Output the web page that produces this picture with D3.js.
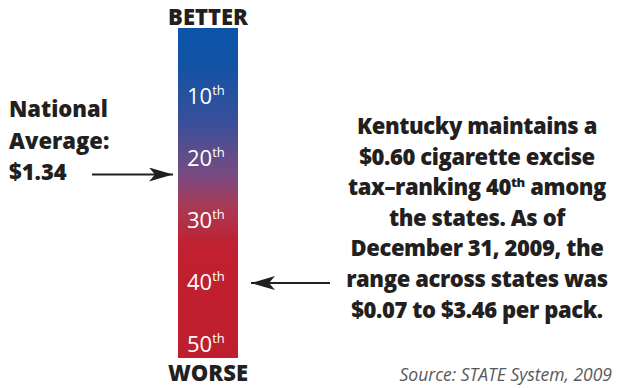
<!DOCTYPE html>
<html><head><meta charset="utf-8">
<script src="https://cdn.jsdelivr.net/npm/d3@7"></script>
<style>body{margin:0;background:#fff}svg{display:block}</style>
</head><body>
<script>
const rankTicks = [10, 20, 30, 40, 50];
const rankDomain = [0, 53];
const nationalAvgRank = 22.5;
const kentuckyRank = 40;
const leftLabel = ["National", "Average:", "$1.34"];
const rightLabel = ["Kentucky maintains a", "$0.60 cigarette excise", "tax\u2013ranking 40|th| among", "the states. As of", "December 31, 2009, the", "range across states was", "$0.07 to $3.46 per pack."];
const gradStops = [
  {o: 0, c: "#0a55a8"}, {o: 0.12, c: "#1453a4"}, {o: 0.29, c: "#3a4f9a"},
  {o: 0.45, c: "#7a4a80"}, {o: 0.54, c: "#a83a55"}, {o: 0.66, c: "#c02030"}, {o: 1, c: "#be1e2d"}
];

const W = 622, H = 388;
const svg = d3.select("body").append("svg").attr("width", W).attr("height", H);
const font = "'Open Sans', 'Noto Sans', sans-serif";
const ink = "#231f20";
const bold = 800;
const barTop = 28, barBot = 358, barX = 178, barW = 60;
const y = d3.scaleLinear().domain(rankDomain).range([35, 35 + 6.2 * 53]);

const defs = svg.append("defs");
const g = defs.append("linearGradient").attr("id", "grad").attr("x1", 0).attr("y1", 0).attr("x2", 0).attr("y2", 1);
g.selectAll("stop").data(gradStops).join("stop").attr("offset", d => d.o).attr("stop-color", d => d.c);
const m = defs.append("marker").attr("id", "ah").attr("viewBox", "0 0 24 14").attr("refX", 24).attr("refY", 7)
  .attr("markerWidth", 24).attr("markerHeight", 14).attr("markerUnits", "userSpaceOnUse").attr("orient", "auto");
m.append("path").attr("d", "M0,0 L24,7 L0,14 L6,7 Z").attr("fill", ink);

svg.append("rect").attr("x", barX).attr("y", barTop).attr("width", barW).attr("height", barBot - barTop).attr("fill", "url(#grad)");

svg.append("text").attr("x", barX + barW / 2).attr("y", 25).attr("text-anchor", "middle")
  .attr("font-family", font).attr("font-weight", bold).attr("font-size", 22).attr("fill", ink).text("BETTER");
svg.append("text").attr("x", barX + barW / 2).attr("y", 381).attr("text-anchor", "middle")
  .attr("font-family", font).attr("font-weight", bold).attr("font-size", 22).attr("fill", ink).text("WORSE");

const tk = svg.selectAll("text.tick").data(rankTicks).join("text").attr("class", "tick")
  .attr("x", barX + 9).attr("y", d => y(d) + 7).attr("font-family", font).attr("font-size", 22).attr("fill", "#fff");
tk.append("tspan").text(d => d);
tk.append("tspan").attr("dy", -9).attr("font-size", 13).text("th");

// left label
svg.selectAll("text.left").data(leftLabel).join("text").attr("class", "left")
  .attr("x", 9).attr("y", (d, i) => 117 + i * 31.5).attr("font-family", font).attr("font-weight", bold)
  .attr("font-size", 22).attr("fill", ink).text(d => d);

svg.append("line").attr("x1", 92).attr("x2", 173).attr("y1", y(nationalAvgRank)).attr("y2", y(nationalAvgRank))
  .attr("stroke", ink).attr("stroke-width", 2).attr("marker-end", "url(#ah)");
svg.append("line").attr("x1", 330).attr("x2", 251).attr("y1", y(kentuckyRank)).attr("y2", y(kentuckyRank))
  .attr("stroke", ink).attr("stroke-width", 2).attr("marker-end", "url(#ah)");

// right label
const rt = svg.selectAll("text.right").data(rightLabel).join("text").attr("class", "right")
  .attr("x", 477).attr("y", (d, i) => 134 + i * 30.6).attr("text-anchor", "middle").attr("font-family", font)
  .attr("font-weight", bold).attr("font-size", 22).attr("fill", ink).attr("letter-spacing", -0.4);
rt.each(function(d) {
  const parts = d.split("|");
  const t = d3.select(this);
  parts.forEach((p, i) => {
    if (i === 1) t.append("tspan").attr("dy", -8).attr("font-size", 13).text(p);
    else if (i === 2) t.append("tspan").attr("dy", 8).text(p);
    else t.append("tspan").text(p);
  });
});

svg.append("text").attr("x", 612).attr("y", 381).attr("text-anchor", "end").attr("font-family", font)
  .attr("font-style", "italic").attr("font-size", 17.5).attr("fill", "#58595b").text("Source: STATE System, 2009");
</script>
</body></html>
